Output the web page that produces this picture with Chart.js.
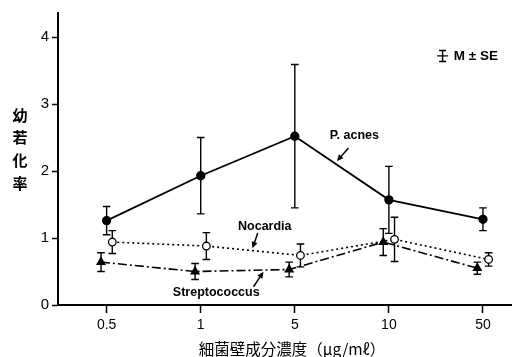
<!DOCTYPE html>
<html>
<head>
<meta charset="utf-8">
<script src="https://cdn.jsdelivr.net/npm/chart.js@4/dist/chart.umd.min.js"></script>
<style>
  html, body { margin: 0; padding: 0; background: #fff; }
  #wrap { width: 517px; height: 357px; }
</style>
</head>
<body>
<div id="wrap"><canvas id="c" width="517" height="357"></canvas></div>
<script>
// Concentration categories (µg/ml)
const doseLabels = ['0.5', '1', '5', '10', '50'];

// Blastogenesis index, mean and standard error per strain
const pAcnesMean   = [1.26, 1.93, 2.52, 1.57, 1.28];
const pAcnesSE     = [0.21, 0.57, 1.07, 0.50, 0.17];
const nocardiaMean = [0.94, 0.88, 0.74, 0.98, 0.68];
const nocardiaSE   = [0.17, 0.20, 0.17, 0.33, 0.10];
const streptoMean  = [0.64, 0.50, 0.53, 0.94, 0.55];
const streptoSE    = [0.14, 0.12, 0.11, 0.20, 0.09];

// Y axis tick values
const yTickValues = [0, 1, 2, 3, 4];

const yTitleChars = ['幼', '若', '化', '率'];
const xTitleText = '細菌壁成分濃度（μg/mℓ）';

const LATIN = '"Liberation Sans", Arial, sans-serif';
const CJK = '"Noto Sans CJK JP", sans-serif';

function toPoints(means, shift) {
  return means.map((v, i) => ({ x: i + shift, y: v }));
}

const series = [
  { label: 'P. acnes', means: pAcnesMean, se: pAcnesSE, shift: 0,
    dash: [], style: 'circle', fill: '#000', radius: 4, width: 1.8 },
  { label: 'Nocardia', means: nocardiaMean, se: nocardiaSE, shift: 0.06,
    dash: [2, 3], style: 'circle', fill: '#fff', radius: 3.8, width: 1.6 },
  { label: 'Streptococcus', means: streptoMean, se: streptoSE, shift: -0.06,
    dash: [9, 3, 2, 3], style: 'triangle', fill: '#000', radius: 4.5, width: 1.6 }
];

// Vertical error bars with end caps, drawn beneath the markers
const errorBars = {
  id: 'errorBars',
  beforeDatasetsDraw(chart) {
    const { ctx, scales: { x, y } } = chart;
    ctx.save();
    ctx.strokeStyle = '#000';
    ctx.lineWidth = 1.4;
    ctx.setLineDash([]);
    series.forEach(s => {
      s.means.forEach((m, i) => {
        const px = x.getPixelForValue(i + s.shift);
        const top = y.getPixelForValue(m + s.se[i]);
        const bot = y.getPixelForValue(m - s.se[i]);
        ctx.beginPath();
        ctx.moveTo(px, top); ctx.lineTo(px, bot);
        ctx.moveTo(px - 3.8, top); ctx.lineTo(px + 3.8, top);
        ctx.moveTo(px - 3.8, bot); ctx.lineTo(px + 3.8, bot);
        ctx.stroke();
      });
    });
    ctx.restore();
  }
};

// Series labels with pointer arrows, the M ± SE key and axis titles
const labels = [
  { text: 'P. acnes', at: [2.633, 2.537], from: [2.571, 2.343], to: [2.447, 2.149] },
  { text: 'Nocardia', at: [1.681, 1.169], from: [1.606, 1.075], to: [1.55, 0.846] },
  { text: 'Streptococcus', at: [1.165, 0.184], from: [1.561, 0.273], to: [1.667, 0.497] }
];

function arrow(ctx, x1, y1, x2, y2) {
  const ang = Math.atan2(y2 - y1, x2 - x1);
  const len = 6.5, half = 3;
  ctx.beginPath();
  ctx.moveTo(x1, y1);
  ctx.lineTo(x2 - Math.cos(ang) * len * 0.8, y2 - Math.sin(ang) * len * 0.8);
  ctx.stroke();
  ctx.beginPath();
  ctx.moveTo(x2, y2);
  ctx.lineTo(x2 - Math.cos(ang) * len - Math.sin(ang) * half, y2 - Math.sin(ang) * len + Math.cos(ang) * half);
  ctx.lineTo(x2 - Math.cos(ang) * len + Math.sin(ang) * half, y2 - Math.sin(ang) * len - Math.cos(ang) * half);
  ctx.closePath();
  ctx.fill();
}

const decorations = {
  id: 'decorations',
  afterDraw(chart) {
    const { ctx, scales: { x, y } } = chart;
    ctx.save();
    ctx.fillStyle = '#000';
    ctx.strokeStyle = '#000';
    ctx.lineWidth = 1.5;
    ctx.textAlign = 'center';
    ctx.textBaseline = 'middle';
    ctx.font = 'bold 12.5px ' + LATIN;
    labels.forEach(l => {
      ctx.fillText(l.text, x.getPixelForValue(l.at[0]), y.getPixelForValue(l.at[1]));
      arrow(ctx,
        x.getPixelForValue(l.from[0]), y.getPixelForValue(l.from[1]),
        x.getPixelForValue(l.to[0]), y.getPixelForValue(l.to[1]));
    });

    // M ± SE key
    const kx = x.getPixelForValue(3.571);
    const kt = y.getPixelForValue(3.80), kb = y.getPixelForValue(3.635), km = y.getPixelForValue(3.72);
    ctx.lineWidth = 1.4;
    ctx.beginPath();
    ctx.moveTo(kx, kt); ctx.lineTo(kx, kb);
    ctx.moveTo(kx - 3.5, kt); ctx.lineTo(kx + 3.5, kt);
    ctx.moveTo(kx - 3.5, kb); ctx.lineTo(kx + 3.5, kb);
    ctx.moveTo(kx - 5.5, km); ctx.lineTo(kx + 5.5, km);
    ctx.stroke();
    ctx.textAlign = 'left';
    ctx.font = 'bold 13.5px ' + LATIN;
    ctx.fillText('M ± SE', x.getPixelForValue(3.69), km + 0.5);

    // Y axis title, stacked vertically
    ctx.textAlign = 'center';
    ctx.font = 'bold 15px ' + CJK;
    yTitleChars.forEach((ch, i) => ctx.fillText(ch, 20, 115 + i * 22.7));

    // X axis title
    ctx.font = '15.5px ' + CJK;
    ctx.fillText(xTitleText, 292, 349);
    ctx.restore();
  }
};

new Chart(document.getElementById('c'), {
  type: 'line',
  data: {
    datasets: series.map(s => ({
      label: s.label,
      data: toPoints(s.means, s.shift),
      borderColor: '#000',
      borderWidth: s.width,
      borderDash: s.dash,
      pointStyle: s.style,
      pointRadius: s.radius,
      pointBackgroundColor: s.fill,
      pointBorderColor: '#000',
      pointBorderWidth: 1.3,
      tension: 0,
      fill: false
    }))
  },
  options: {
    responsive: false,
    animation: false,
    devicePixelRatio: 1,
    layout: { padding: { top: 13, right: 2, left: 0, bottom: 0 } },
    plugins: { legend: { display: false }, tooltip: { enabled: false } },
    scales: {
      x: {
        type: 'linear',
        min: -0.517,
        max: 4.30,
        afterBuildTicks(scale) {
          scale.ticks = doseLabels.map((_, i) => ({ value: i }));
        },
        afterFit(scale) { scale.height = 52; },
        ticks: {
          callback: v => doseLabels[v],
          color: '#000',
          font: { family: LATIN, size: 14 },
          padding: 4,
          maxRotation: 0,
          autoSkip: false
        },
        grid: { drawOnChartArea: false, color: '#000', tickLength: 8, tickWidth: 1.5 },
        border: { color: '#000', width: 2 }
      },
      y: {
        min: 0,
        max: 4.36,
        afterBuildTicks(scale) {
          scale.ticks = yTickValues.map(v => ({ value: v }));
        },
        afterFit(scale) { scale.width = 58; },
        ticks: {
          color: '#000',
          font: { family: LATIN, size: 15 },
          padding: 3
        },
        grid: { drawOnChartArea: false, color: '#000', tickLength: 6, tickWidth: 1.5 },
        border: { color: '#000', width: 2 }
      }
    }
  },
  plugins: [errorBars, decorations]
});
</script>
</body>
</html>
